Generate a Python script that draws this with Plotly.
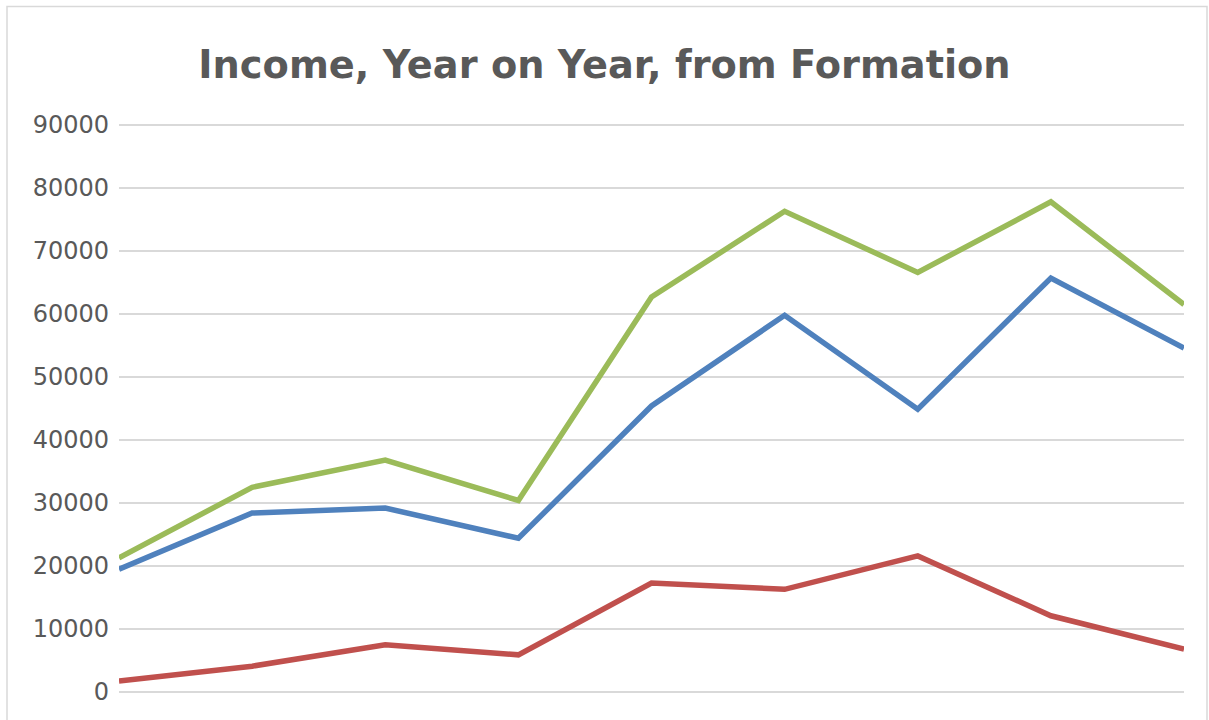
import plotly.graph_objects as go

years = [1, 2, 3, 4, 5, 6, 7, 8, 9]
series_blue = [19500, 28400, 29200, 24400, 45400, 59800, 44900, 65700, 54600]
series_red = [1750, 4100, 7500, 5900, 17300, 16300, 21600, 12100, 6800]
series_green = [21300, 32500, 36800, 30400, 62700, 76300, 66600, 77800, 61500]
y_ticks = [0, 10000, 20000, 30000, 40000, 50000, 60000, 70000, 80000, 90000]

W, H = 1209, 720
L, R, T, B = 119, 25, 121, 24
fig = go.Figure()
for vals, col in [(series_blue, "#4f81bd"), (series_red, "#c0504d"), (series_green, "#9bbb59")]:
    fig.add_trace(go.Scatter(x=years, y=vals, mode="lines",
                             line=dict(color=col, width=5.5), showlegend=False))

u = 90000 / (H - T - B - 8)
fig.update_layout(
    width=W, height=H,
    paper_bgcolor="white", plot_bgcolor="white",
    margin=dict(l=L, r=R, t=T, b=B),
    title=dict(text="<b>Income, Year on Year, from Formation</b>",
               x=0.5, xanchor="center", y=1 - 65 / H, yanchor="middle",
               font=dict(family="DejaVu Sans", size=38.3, color="#595959")),
    font=dict(family="DejaVu Sans", color="#595959"),
    xaxis=dict(range=[1, 9], showgrid=False, showticklabels=False, zeroline=False,
               showline=False, ticks=""),
    yaxis=dict(range=[-4 * u, 90000 + 4 * u], tickvals=y_ticks, ticktext=[str(v) for v in y_ticks],
               showgrid=True, gridcolor="#d9d9d9", gridwidth=2, zeroline=False,
               showline=False, ticks="", ticklabelstandoff=9,
               tickfont=dict(family="DejaVu Sans", size=24, color="#595959")),
    shapes=[dict(type="rect", xref="paper", yref="paper",
                 x0=(7 - L) / (W - L - R), x1=(1207 - L) / (W - L - R),
                 y0=-0.2, y1=1 + (T - 6.5) / (H - T - B),
                 line=dict(color="#d9d9d9", width=1.5), layer="below")],
)
fig.write_html("out.html", config={"displayModeBar": False},
               post_script="document.body.style.margin='0';")
